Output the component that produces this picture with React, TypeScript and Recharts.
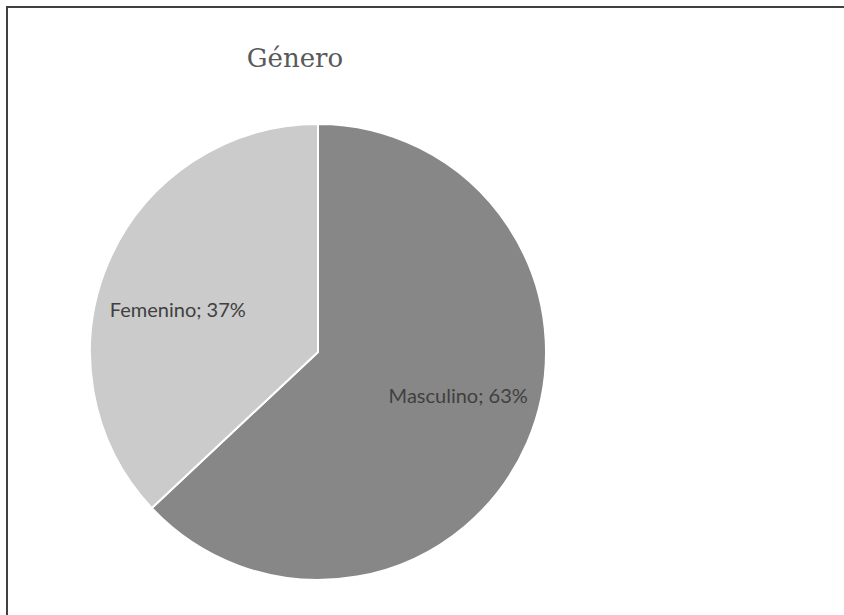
import { Pie, PieChart, Cell } from "recharts"

const categories = ["Masculino", "Femenino"]
const percents = [63, 37]
const colors = ["#878787", "#cbcbcb"]

const data = categories.map((name, i) => ({ name, value: percents[i] }))

const RADIAN = Math.PI / 180

const renderLabel = (props: any) => {
  const { cx, cy, midAngle, outerRadius, index } = props
  const x = cx + outerRadius * 0.67 * Math.cos(-midAngle * RADIAN)
  const y = cy + outerRadius * 0.47 * Math.sin(-midAngle * RADIAN)
  return (
    <text
      x={x}
      y={y}
      fill="#404040"
      textAnchor="middle"
      dominantBaseline="central"
      style={{ fontFamily: "Lato, 'Liberation Sans', sans-serif", fontSize: 20 }}
    >
      {`${categories[index]}; ${percents[index]}%`}
    </text>
  )
}

export default function App() {
  return (
    <div
      style={{
        position: "fixed",
        left: 0,
        top: 0,
        width: 844,
        height: 615,
        overflow: "hidden",
        background: "#fff",
      }}
    >
      <div
        style={{
          position: "absolute",
          left: 6,
          top: 6,
          width: 900,
          height: 700,
          borderLeft: "2px solid #404040",
          borderTop: "2px solid #404040",
        }}
      />
      <div
        style={{
          position: "absolute",
          left: 0,
          top: 43,
          width: 590,
          textAlign: "center",
          fontFamily: "'DejaVu Serif', serif",
          fontSize: 26,
          color: "#595959",
        }}
      >
        Género
      </div>
      <div style={{ position: "absolute", left: 0, top: 0 }}>
        <PieChart width={844} height={615} margin={{ top: 0, right: 0, bottom: 0, left: 0 }}>
          <Pie
            data={data}
            dataKey="value"
            nameKey="name"
            cx={318}
            cy={352}
            outerRadius={228}
            startAngle={90}
            endAngle={-270}
            stroke="#ffffff"
            strokeWidth={2}
            label={renderLabel}
            labelLine={false}
            isAnimationActive={false}
          >
            {data.map((d, i) => (
              <Cell key={d.name} fill={colors[i]} />
            ))}
          </Pie>
        </PieChart>
      </div>
    </div>
  )
}
